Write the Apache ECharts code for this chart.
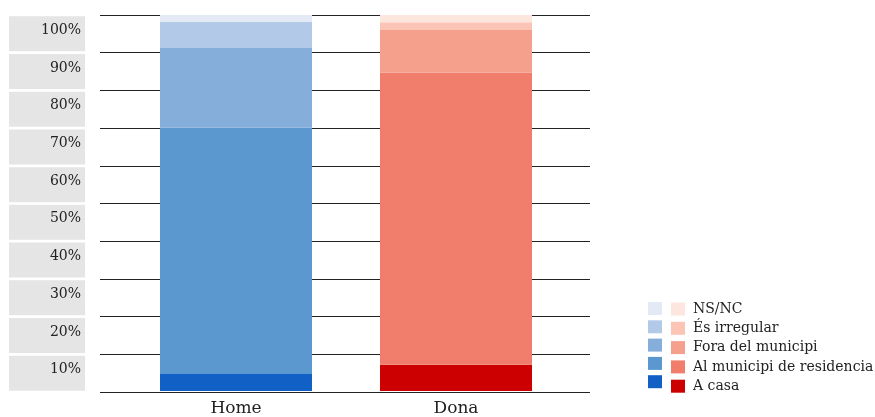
<!DOCTYPE html>
<html>
<head>
<meta charset="utf-8">
<script src="https://cdn.jsdelivr.net/npm/echarts@6/dist/echarts.min.js"></script>
<style>html,body{margin:0;padding:0;background:#fff}#c{width:875px;height:417px}</style>
</head>
<body>
<div id="c"></div>
<script>
const categories = ['Home', 'Dona'];
const segmentNames = ['A casa', 'Al municipi de residencia', 'Fora del municipi', 'És irregular', 'NS/NC'];
const homeValues = [4.5, 65.5, 21.2, 7.0, 1.8];
const donaValues = [7.0, 77.7, 11.3, 2.1, 1.9];
const yTickLabels = ['10%', '20%', '30%', '40%', '50%', '60%', '70%', '80%', '90%', '100%'];

const homeColors = ['#1060c5', '#5b98d0', '#86aedb', '#b3c9e8', '#e3eaf6'];
const donaColors = ['#cc0000', '#f17e6c', '#f5a08c', '#fbc4b4', '#fde6dd'];
const FONT = 'DejaVu Serif';

const series = [];
segmentNames.forEach((n, i) => {
  series.push({
    name: 'H|' + n, type: 'bar', stack: 'all', xAxisIndex: 1, yAxisIndex: 2,
    barWidth: 152, itemStyle: { color: homeColors[i] },
    data: [homeValues[i], '-']
  });
});
segmentNames.forEach((n, i) => {
  series.push({
    name: 'D|' + n, type: 'bar', stack: 'all', xAxisIndex: 1, yAxisIndex: 2,
    barWidth: 152, itemStyle: { color: donaColors[i] },
    data: ['-', donaValues[i]]
  });
});

const legendOrder = segmentNames.slice().reverse();

const chart = echarts.init(document.getElementById('c'));
chart.setOption({
  animation: false,
  textStyle: { fontFamily: FONT },
  grid: [
    { left: 100, right: 285, top: 15, bottom: 25 },
    { left: 126, right: 309, top: 15, bottom: 25 }
  ],
  xAxis: [
    { type: 'category', gridIndex: 0, data: ['a'], show: false },
    { type: 'category', gridIndex: 1, data: categories,
      axisLine: { show: false }, axisTick: { show: false },
      axisLabel: { fontFamily: FONT, fontSize: 17, color: '#222', margin: 9 } }
  ],
  yAxis: [
    { type: 'value', gridIndex: 0, min: 0, max: 100, interval: 10,
      axisLabel: { show: false }, axisLine: { show: false }, axisTick: { show: false },
      splitLine: { show: true, lineStyle: { color: '#222', width: 1 } } },
    { type: 'category', gridIndex: 0, data: yTickLabels, position: 'left',
      axisLine: { show: false }, axisTick: { show: false }, splitLine: { show: false },
      axisLabel: {
        margin: 15,
        formatter: v => '{a|' + v + '}',
        rich: { a: { fontFamily: FONT, fontSize: 14, color: '#222', width: 72, height: 18, lineHeight: 18,
          align: 'right', padding: [5, 4, 12, 0], backgroundColor: '#e5e5e5' } }
      } },
    { type: 'value', gridIndex: 1, min: 0, max: 100, show: false, splitLine: { show: false } }
  ],
  legend: [
    { orient: 'vertical', left: 648, top: 302, padding: 0, itemWidth: 14, itemHeight: 13, itemGap: 5.3,
      icon: 'rect', selectedMode: false,
      data: legendOrder.map(n => 'H|' + n), formatter: () => '',
      textStyle: { fontSize: 14, lineHeight: 13 } },
    { orient: 'vertical', left: 671, top: 302, padding: 0, itemWidth: 14, itemHeight: 13, itemGap: 5.3,
      icon: 'rect', selectedMode: false,
      data: legendOrder.map(n => 'D|' + n), formatter: n => n.slice(2),
      textStyle: { fontFamily: FONT, fontSize: 14, lineHeight: 13, color: '#222', padding: [0, 0, 0, 3] } }
  ],
  series: series
});
</script>
</body>
</html>
